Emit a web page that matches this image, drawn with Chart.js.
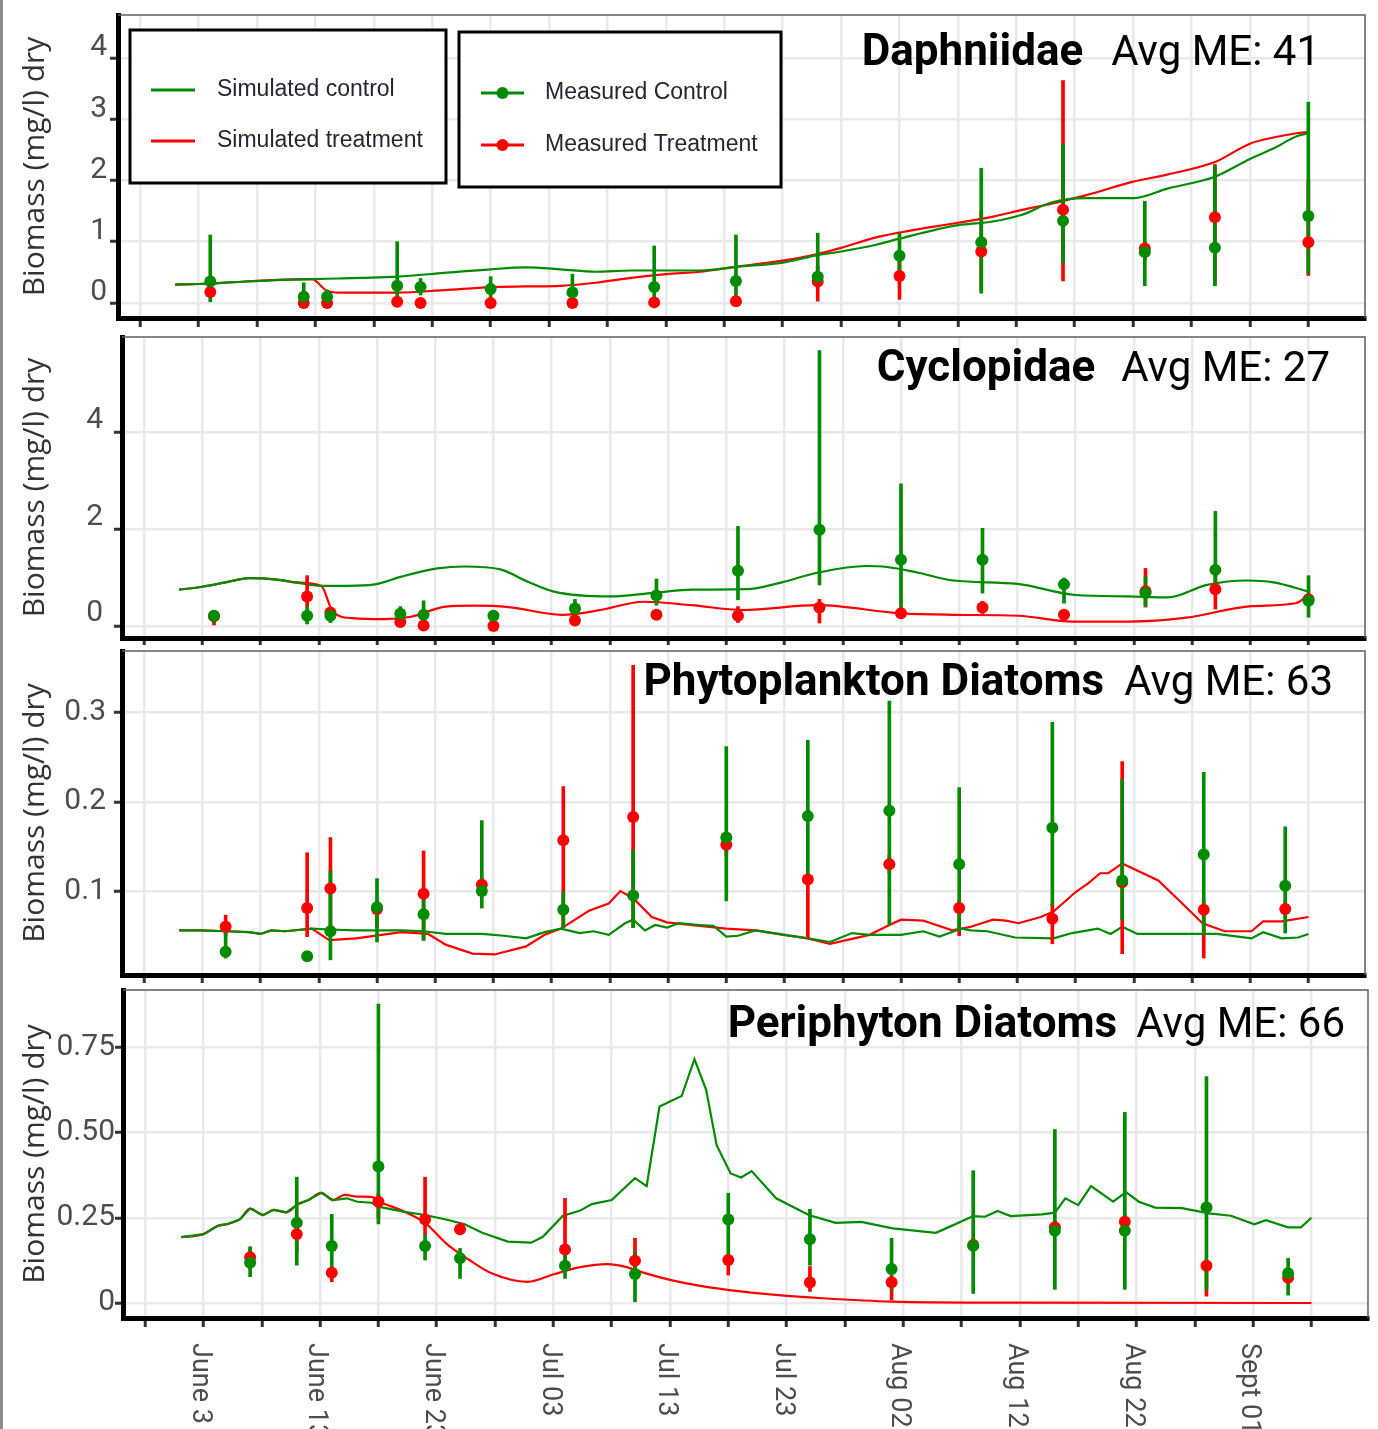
<!DOCTYPE html>
<html>
<head>
<meta charset="utf-8">
<script src="https://cdn.jsdelivr.net/npm/chart.js@4.4.1/dist/chart.umd.min.js"></script>
<style>
  html, body { margin: 0; padding: 0; background: #fff; }
  body { width: 1378px; height: 1429px; position: relative; overflow: hidden; }
  #edge { position: absolute; left: 0; top: 0; width: 3px; height: 1429px; background: #8c8c8c; }
  canvas { position: absolute; left: 0; }
</style>
</head>
<body>
<div id="edge"></div>
<canvas id="p1" width="1378" height="330" style="top:0px"></canvas>
<canvas id="p2" width="1378" height="315" style="top:330px"></canvas>
<canvas id="p3" width="1378" height="338" style="top:645px"></canvas>
<canvas id="p4" width="1378" height="446" style="top:983px"></canvas>
<script>
// x values are days since June 3
const xTickDays = [0, 10, 20, 30, 40, 50, 60, 70, 80, 90];
const xTickLabels = ['June 3', 'June 13', 'June 23', 'Jul 03', 'Jul 13', 'Jul 23', 'Aug 02', 'Aug 12', 'Aug 22', 'Sept 01'];

const seriesLabels = ['Simulated control', 'Simulated treatment', 'Measured Control', 'Measured Treatment'];
const panelNames = ['Daphniidae', 'Cyclopidae', 'Phytoplankton Diatoms', 'Periphyton Diatoms'];
const panelME = [41, 27, 63, 66];

// --- Daphniidae ---
const daphSimCtrlDays = [-2, 0, 3, 6, 9.7, 12, 14, 17, 21, 25, 28, 31, 34, 37, 40, 43, 46, 50, 53, 55, 58, 60, 65, 68, 70.5, 73, 76, 80, 83, 87, 90, 92, 94, 95];
const daphSimCtrl = [0.30, 0.31, 0.34, 0.37, 0.39, 0.40, 0.41, 0.43, 0.49, 0.55, 0.58, 0.55, 0.51, 0.53, 0.53, 0.53, 0.59, 0.66, 0.78, 0.84, 0.95, 1.05, 1.27, 1.33, 1.44, 1.64, 1.71, 1.71, 1.87, 2.06, 2.35, 2.52, 2.72, 2.77];
const daphSimTrtDays = [-2, 0, 3, 6, 9.7, 10.9, 12, 14, 17, 21, 25, 28, 31, 34, 37, 40, 43, 46, 50, 53, 55, 58, 60, 65, 68, 70.5, 73, 76, 80, 83, 87, 90, 92, 94, 95];
const daphSimTrt = [0.30, 0.31, 0.34, 0.37, 0.39, 0.21, 0.17, 0.17, 0.17, 0.21, 0.26, 0.27, 0.28, 0.33, 0.41, 0.47, 0.51, 0.59, 0.69, 0.80, 0.90, 1.07, 1.15, 1.31, 1.41, 1.52, 1.62, 1.76, 1.98, 2.10, 2.30, 2.60, 2.70, 2.77, 2.79];
const zooSampleDays = [1, 9, 11, 17, 19, 25, 32, 39, 46, 53, 60, 67, 74, 81, 87, 95];
const daphCtrlMean = [0.35, 0.10, 0.10, 0.28, 0.26, 0.23, 0.17, 0.26, 0.36, 0.43, 0.77, 0.99, 1.34, 0.83, 0.90, 1.42];
const daphCtrlLo = [0.00, 0.02, 0.02, 0.02, 0.13, 0.05, 0.05, 0.02, 0.00, 0.33, 0.45, 0.16, 0.65, 0.28, 0.28, 0.48];
const daphCtrlHi = [1.11, 0.33, 0.21, 1.00, 0.40, 0.43, 0.47, 0.93, 1.11, 1.14, 1.14, 2.20, 2.59, 1.66, 2.24, 3.28];
const daphTrtMean = [0.18, 0.00, 0.00, 0.02, 0.00, 0.00, 0.00, 0.01, 0.03, 0.35, 0.44, 0.84, 1.52, 0.89, 1.40, 0.99];
const daphTrtLo = [0.10, 0.00, 0.00, 0.00, 0.00, 0.00, 0.00, 0.00, 0.00, 0.03, 0.06, 0.20, 0.36, 0.70, 0.30, 0.45];
const daphTrtHi = [0.25, 0.02, 0.02, 0.04, 0.02, 0.02, 0.02, 0.03, 0.05, 0.60, 0.80, 1.50, 3.63, 1.00, 2.26, 2.00];

// --- Cyclopidae ---
const cyclSimCtrlDays = [-2, 0, 2, 4, 6.4, 8, 10.2, 12.5, 14.8, 17.1, 20.2, 22.5, 25.6, 27.9, 30.2, 35, 39, 42, 46.8, 49.4, 52.8, 57, 58.8, 61.5, 64.5, 70, 75, 79.6, 82.9, 86.3, 89.7, 92, 95];
const cyclSimCtrl = [0.75, 0.81, 0.90, 0.99, 0.96, 0.90, 0.83, 0.83, 0.86, 1.02, 1.19, 1.23, 1.17, 0.92, 0.71, 0.61, 0.69, 0.75, 0.76, 0.88, 1.10, 1.24, 1.22, 1.10, 0.94, 0.87, 0.64, 0.61, 0.59, 0.85, 0.94, 0.90, 0.71];
const cyclSimTrtDays = [-2, 0, 2, 4, 6.4, 8, 10.2, 11.2, 12.9, 15.6, 17.9, 20.9, 23.3, 26.3, 30.9, 34, 37.9, 42, 46.4, 52.8, 60, 64.5, 70.1, 74.7, 79.6, 84.5, 90.1, 93.9, 95];
const cyclSimTrt = [0.75, 0.81, 0.90, 0.99, 0.96, 0.90, 0.83, 0.30, 0.16, 0.14, 0.19, 0.40, 0.42, 0.39, 0.23, 0.32, 0.50, 0.43, 0.33, 0.43, 0.26, 0.23, 0.21, 0.09, 0.09, 0.17, 0.41, 0.47, 0.64];
const cyclCtrlMean = [0.21, 0.21, 0.21, 0.25, 0.23, 0.21, 0.36, 0.63, 1.14, 1.99, 1.37, 1.37, 0.86, 0.68, 1.16, 0.52];
const cyclCtrlLo = [0.06, 0.04, 0.07, 0.11, 0.05, 0.10, 0.19, 0.43, 0.54, 0.85, 0.16, 0.68, 0.47, 0.40, 0.85, 0.18];
const cyclCtrlHi = [0.30, 0.40, 0.35, 0.40, 0.52, 0.30, 0.55, 0.97, 2.06, 5.70, 2.94, 2.02, 0.99, 1.02, 2.37, 1.04];
const cyclTrtMean = [0.20, 0.61, 0.28, 0.08, 0.01, 0.00, 0.11, 0.23, 0.21, 0.38, 0.26, 0.38, 0.23, 0.72, 0.76, 0.55];
const cyclTrtLo = [0.02, 0.40, 0.18, 0.04, 0.00, 0.00, 0.06, 0.18, 0.07, 0.06, 0.16, 0.26, 0.18, 0.39, 0.35, 0.45];
const cyclTrtHi = [0.25, 1.04, 0.38, 0.12, 0.04, 0.03, 0.16, 0.28, 0.40, 0.55, 0.36, 0.51, 0.28, 1.19, 1.20, 0.65];

// --- Phytoplankton Diatoms ---
const phytoSimCtrlDays = [-2, -0.2, 2.1, 4, 5, 5.9, 7.1, 9.4, 10.9, 13.2, 17.1, 19, 20.9, 24, 25.9, 27.8, 29.4, 30.8, 32.4, 33.6, 34.9, 36.3, 37, 38, 38.9, 39.9, 40.9, 42.7, 43.9, 45, 46, 47.5, 49.9, 52, 53.9, 55.8, 57.3, 60, 61.9, 63.3, 65.2, 66, 67.4, 69.8, 73.1, 74.7, 76.9, 78, 79, 80.3, 83.3, 87.1, 90.1, 91.1, 92.7, 94.1, 95];
const phytoSimCtrl = [0.056, 0.056, 0.055, 0.054, 0.052, 0.056, 0.055, 0.058, 0.057, 0.056, 0.056, 0.055, 0.052, 0.052, 0.050, 0.047, 0.054, 0.058, 0.053, 0.055, 0.051, 0.064, 0.068, 0.056, 0.062, 0.059, 0.064, 0.062, 0.061, 0.049, 0.050, 0.056, 0.051, 0.047, 0.043, 0.053, 0.051, 0.051, 0.055, 0.049, 0.058, 0.056, 0.055, 0.048, 0.047, 0.053, 0.058, 0.052, 0.060, 0.052, 0.052, 0.052, 0.047, 0.054, 0.047, 0.048, 0.052];
const phytoSimTrtDays = [-2, -0.2, 2.1, 4, 5, 5.9, 7.1, 9.4, 10.9, 13.2, 17.1, 19.4, 20.9, 23.2, 25.1, 27.8, 29.4, 30.8, 33.2, 34.9, 35.9, 37, 38.6, 39.9, 42.7, 45, 47.5, 52, 53.9, 57.3, 59, 60, 61.9, 64.4, 66, 67.9, 69, 70.1, 72, 73.1, 75, 76.1, 77.1, 77.8, 79, 82.1, 84, 85.9, 87.8, 90.1, 91.1, 92.7, 95];
const phytoSimTrt = [0.056, 0.056, 0.055, 0.054, 0.052, 0.056, 0.055, 0.058, 0.045, 0.047, 0.054, 0.052, 0.040, 0.030, 0.029, 0.038, 0.051, 0.058, 0.078, 0.086, 0.100, 0.092, 0.071, 0.065, 0.061, 0.058, 0.056, 0.047, 0.041, 0.051, 0.062, 0.068, 0.067, 0.056, 0.060, 0.068, 0.067, 0.064, 0.071, 0.077, 0.099, 0.109, 0.120, 0.120, 0.131, 0.112, 0.088, 0.064, 0.055, 0.055, 0.066, 0.066, 0.071];
const phytoSampleDays = [2, 9, 11, 15, 19, 24, 31, 37, 45, 52, 59, 65, 73, 79, 86, 93];
const phytoCtrlMean = [0.032, 0.027, 0.055, 0.082, 0.074, 0.100, 0.079, 0.095, 0.160, 0.184, 0.190, 0.130, 0.171, 0.112, 0.141, 0.106];
const phytoCtrlLo = [0.025, 0.025, 0.023, 0.043, 0.045, 0.081, 0.059, 0.059, 0.089, 0.115, 0.062, 0.056, 0.084, 0.068, 0.051, 0.053];
const phytoCtrlHi = [0.056, 0.030, 0.122, 0.114, 0.092, 0.179, 0.099, 0.146, 0.262, 0.269, 0.313, 0.216, 0.289, 0.225, 0.233, 0.172];
const phytoTrtMean = [0.060, 0.081, 0.103, 0.080, 0.097, 0.107, 0.157, 0.183, 0.152, 0.113, 0.130, 0.081, 0.069, 0.110, 0.079, 0.080];
const phytoTrtLo = [0.050, 0.049, 0.060, 0.060, 0.045, 0.095, 0.059, 0.059, 0.140, 0.047, 0.120, 0.050, 0.041, 0.030, 0.025, 0.070];
const phytoTrtHi = [0.073, 0.143, 0.160, 0.090, 0.145, 0.115, 0.217, 0.353, 0.165, 0.120, 0.140, 0.090, 0.086, 0.245, 0.090, 0.090];

// --- Periphyton Diatoms ---
const periSimCtrlDays = [-1.9, 0, 1.2, 2.1, 3.1, 4, 5.1, 6, 7.1, 8.1, 9, 10.1, 11.1, 12.3, 13.2, 14.4, 15.1, 17.1, 19, 20.8, 22.4, 23.9, 26.1, 28.1, 29.1, 30.8, 32.3, 33.3, 35, 37, 38, 39.1, 41, 42.1, 43.1, 44, 45.2, 46.1, 47, 49.1, 51.9, 54.2, 56.4, 59.1, 62.8, 64, 66, 67, 68.1, 69.2, 71.9, 73, 73.9, 75, 76.1, 78, 79.1, 80.2, 81.6, 83.9, 86.2, 88.1, 90.1, 91.1, 93, 94.1, 95];
const periSimCtrl = [0.193, 0.202, 0.226, 0.232, 0.245, 0.277, 0.258, 0.273, 0.266, 0.290, 0.302, 0.323, 0.302, 0.307, 0.297, 0.294, 0.282, 0.268, 0.258, 0.245, 0.231, 0.206, 0.180, 0.177, 0.194, 0.255, 0.271, 0.290, 0.302, 0.366, 0.343, 0.576, 0.607, 0.715, 0.625, 0.463, 0.380, 0.368, 0.387, 0.307, 0.258, 0.235, 0.238, 0.219, 0.206, 0.224, 0.255, 0.253, 0.270, 0.255, 0.260, 0.265, 0.307, 0.287, 0.343, 0.297, 0.325, 0.297, 0.280, 0.278, 0.263, 0.256, 0.231, 0.243, 0.222, 0.222, 0.250];
const periSimTrtDays = [-1.9, 0, 1.2, 2.1, 3.1, 4, 5.1, 6, 7.1, 8.1, 9, 10.1, 11.1, 12.1, 13.2, 14.4, 15.1, 17.1, 19, 20.8, 22.8, 24.7, 27.8, 30.1, 32.3, 34.6, 36.2, 37.7, 40.1, 42.6, 45.1, 49.3, 53.1, 59.1, 68.1, 95];
const periSimTrt = [0.193, 0.202, 0.226, 0.232, 0.245, 0.277, 0.258, 0.273, 0.266, 0.290, 0.302, 0.323, 0.302, 0.317, 0.312, 0.311, 0.297, 0.270, 0.235, 0.175, 0.126, 0.087, 0.062, 0.085, 0.105, 0.114, 0.106, 0.089, 0.067, 0.050, 0.038, 0.023, 0.014, 0.004, 0.001, 0.000];
const periSampleDays = [4, 8, 11, 15, 19, 22, 31, 37, 45, 52, 59, 66, 73, 79, 86, 93];
const periCtrlMean = [0.118, 0.235, 0.167, 0.400, 0.167, 0.131, 0.109, 0.085, 0.245, 0.187, 0.100, 0.168, 0.212, 0.212, 0.280, 0.087];
const periCtrlLo = [0.077, 0.111, 0.087, 0.232, 0.126, 0.072, 0.072, 0.000, 0.126, 0.111, 0.040, 0.028, 0.040, 0.040, 0.040, 0.023];
const periCtrlHi = [0.165, 0.369, 0.260, 0.877, 0.199, 0.160, 0.146, 0.150, 0.322, 0.275, 0.190, 0.388, 0.509, 0.559, 0.664, 0.131];
const periTrtMean = [0.134, 0.202, 0.089, 0.297, 0.245, 0.216, 0.157, 0.124, 0.126, 0.060, 0.061, 0.170, 0.222, 0.238, 0.109, 0.074];
const periTrtLo = [0.100, 0.150, 0.062, 0.250, 0.199, 0.200, 0.100, 0.100, 0.082, 0.034, 0.009, 0.150, 0.200, 0.220, 0.020, 0.060];
const periTrtHi = [0.160, 0.250, 0.100, 0.320, 0.369, 0.235, 0.307, 0.190, 0.140, 0.107, 0.070, 0.190, 0.240, 0.260, 0.120, 0.090];

const GREEN = '#008b00';
const RED = '#ff0000';
const X_MIN = -6.9, X_MAX = 99.85;

function toXY(xs, ys) {
  return xs.map((x, i) => ({ x: x, y: ys[i] }));
}
function toBars(xs, lo, hi) {
  return xs.map((x, i) => ({ x: x, y: [lo[i], hi[i]] }));
}

// top + right panel border
const ggFrame = {
  id: 'ggFrame',
  afterDatasetsDraw(chart) {
    const { ctx, chartArea: a } = chart;
    ctx.save();
    ctx.strokeStyle = '#5e5e5e';
    ctx.lineWidth = 1.5;
    ctx.beginPath();
    ctx.moveTo(a.left, a.top);
    ctx.lineTo(a.right, a.top);
    ctx.lineTo(a.right, a.bottom);
    ctx.stroke();
    ctx.restore();
  }
};

// "Name  Avg ME: nn" in the top right corner
const ggTitle = {
  id: 'ggTitle',
  afterDraw(chart, args, opts) {
    if (!opts || opts.name === undefined) return;
    const { ctx, chartArea: a } = chart;
    ctx.save();
    ctx.fillStyle = '#000';
    ctx.textAlign = 'right';
    ctx.textBaseline = 'alphabetic';
    const x = a.right - opts.inset;
    const y = a.top + opts.baseline;
    const me = 'Avg ME: ' + opts.me;
    ctx.font = '42px Roboto';
    ctx.fillText(me, x, y);
    const w = ctx.measureText(me).width;
    ctx.font = 'bold 44px Roboto';
    ctx.fillText(opts.name, x - w - opts.gap, y);
    ctx.restore();
  }
};

// boxed legends like the ggplot ones
const ggLegend = {
  id: 'ggLegend',
  afterDraw(chart, args, opts) {
    if (!opts || !opts.boxes) return;
    const { ctx, chartArea: a } = chart;
    const ds = chart.data.datasets;
    ctx.save();
    for (const b of opts.boxes) {
      ctx.fillStyle = '#fff';
      ctx.fillRect(a.left + b.x, a.top + b.y, b.w, b.h);
      ctx.strokeStyle = '#000';
      ctx.lineWidth = 3;
      ctx.strokeRect(a.left + b.x, a.top + b.y, b.w, b.h);
      for (const r of b.rows) {
        const d = ds[r.ds];
        const col = d.borderColor || d.pointBackgroundColor;
        const yy = a.top + r.dy;
        ctx.strokeStyle = col;
        ctx.lineWidth = 3;
        ctx.beginPath();
        ctx.moveTo(a.left + b.lineX[0], yy);
        ctx.lineTo(a.left + b.lineX[1], yy);
        ctx.stroke();
        if (b.dot) {
          ctx.fillStyle = col;
          ctx.beginPath();
          ctx.arc(a.left + (b.lineX[0] + b.lineX[1]) / 2, yy, 6, 0, Math.PI * 2);
          ctx.fill();
        }
        ctx.fillStyle = '#262633';
        ctx.font = '23px "Liberation Sans", Arial, sans-serif';
        ctx.textAlign = 'left';
        ctx.textBaseline = 'middle';
        ctx.fillText(d.label, a.left + b.textX, yy);
      }
    }
    ctx.restore();
  }
};

// date labels, turned a quarter clockwise
const ggDates = {
  id: 'ggDates',
  afterDraw(chart, args, opts) {
    if (!opts || !opts.show) return;
    const xs = chart.scales.x;
    const ctx = chart.ctx;
    ctx.save();
    ctx.font = '27px Roboto';
    ctx.fillStyle = '#4d4d4d';
    ctx.textAlign = 'left';
    ctx.textBaseline = 'middle';
    xs.ticks.forEach(t => {
      const i = xTickDays.indexOf(t.value);
      if (i < 0) return;
      const px = xs.getPixelForValue(t.value);
      ctx.save();
      ctx.translate(px - 4, chart.chartArea.bottom + opts.gap);
      ctx.rotate(Math.PI / 2);
      ctx.fillText(xTickLabels[i], 0, 0);
      ctx.restore();
    });
    ctx.restore();
  }
};

function makePanel(id, g, ys, s, extra) {
  const datasets = [
    { type: 'line', label: seriesLabels[0], data: toXY(s.ctrlDays, s.ctrlSim), borderColor: GREEN, borderWidth: 2.2,
      pointRadius: 0, cubicInterpolationMode: s.smoothCtrl ? 'monotone' : 'default', tension: 0, order: 5 },
    { type: 'line', label: seriesLabels[1], data: toXY(s.trtDays, s.trtSim), borderColor: RED, borderWidth: 2.2,
      pointRadius: 0, cubicInterpolationMode: s.smoothTrt ? 'monotone' : 'default', tension: 0, order: 6 },
    { type: 'bar', label: 'treatment range', data: toBars(s.obsDays, s.trtLo, s.trtHi), backgroundColor: RED,
      barThickness: 3, grouped: false, order: 4 },
    { type: 'bar', label: 'control range', data: toBars(s.obsDays, s.ctrlLo, s.ctrlHi), backgroundColor: GREEN,
      barThickness: 3, grouped: false, order: 3 },
    { type: 'line', label: seriesLabels[3], data: toXY(s.obsDays, s.trtMean), showLine: false, pointRadius: 6,
      pointBackgroundColor: RED, pointBorderWidth: 0, borderColor: RED, backgroundColor: RED, order: 2 },
    { type: 'line', label: seriesLabels[2], data: toXY(s.obsDays, s.ctrlMean), showLine: false, pointRadius: 6,
      pointBackgroundColor: GREEN, pointBorderWidth: 0, borderColor: GREEN, backgroundColor: GREEN, order: 1 }
  ];

  const canvas = document.getElementById(id);
  return new Chart(canvas, {
    type: 'line',
    data: { datasets: datasets },
    plugins: [ggFrame, ggTitle, ggLegend, ggDates],
    options: {
      responsive: false,
      animation: false,
      events: [],
      layout: { padding: { top: g.top, right: g.right, left: 0, bottom: 0 } },
      scales: {
        x: {
          type: 'linear', min: X_MIN, max: X_MAX, offset: false,
          afterFit(sc) { sc.height = g.xh; sc.paddingLeft = 0; sc.paddingRight = 0; },
          border: { display: true, color: '#000', width: 5 },
          grid: { color: '#e9e9e9', lineWidth: 2.5, tickColor: '#333', tickLength: 9, tickWidth: 3, offset: false },
          ticks: { display: false, stepSize: 5, includeBounds: false, autoSkip: false }
        },
        y: {
          type: 'linear', min: ys.min, max: ys.max, beginAtZero: false,
          afterFit(sc) { sc.width = g.left; sc.paddingTop = 0; sc.paddingBottom = 0; },
          border: { display: true, color: '#000', width: 5 },
          grid: { color: '#e9e9e9', lineWidth: 2.5, tickColor: '#333', tickLength: 8, tickWidth: 3 },
          ticks: {
            stepSize: ys.step, includeBounds: false, color: '#4d4d4d', padding: ys.pad, labelOffset: ys.labelOffset,
            font: { family: 'Roboto', size: 30 },
            callback: ys.fmt
          },
          title: {
            display: true, text: 'Biomass (mg/l) dry', color: '#333',
            font: { family: '"Open Sans"', size: 30 }, padding: { top: 17, bottom: 0 }
          }
        }
      },
      plugins: {
        legend: { display: false },
        tooltip: { enabled: false },
        ggTitle: extra.title,
        ggLegend: extra.legend || {},
        ggDates: extra.dates || {}
      }
    }
  });
}

const intFmt = v => String(Math.round(v));

makePanel('p1', { top: 15, right: 13, left: 118, xh: 12 },
  { min: -0.245, max: 4.70, step: 1, pad: 3, labelOffset: -10, fmt: intFmt },
  { ctrlDays: daphSimCtrlDays, ctrlSim: daphSimCtrl, trtDays: daphSimTrtDays, trtSim: daphSimTrt,
    smoothCtrl: true, smoothTrt: true, obsDays: zooSampleDays,
    ctrlMean: daphCtrlMean, ctrlLo: daphCtrlLo, ctrlHi: daphCtrlHi,
    trtMean: daphTrtMean, trtLo: daphTrtLo, trtHi: daphTrtHi },
  {
    title: { name: panelNames[0], me: panelME[0], inset: 45, baseline: 50, gap: 28 },
    legend: { boxes: [
      { x: 12, y: 15, w: 316, h: 153, lineX: [33, 77], textX: 99, dot: false, rows: [{ ds: 0, dy: 75 }, { ds: 1, dy: 126 }] },
      { x: 341, y: 17, w: 322, h: 155, lineX: [363, 406], textX: 427, dot: true, rows: [{ ds: 5, dy: 78 }, { ds: 4, dy: 130 }] }
    ] }
  });

makePanel('p2', { top: 7, right: 13, left: 122, xh: 7 },
  { min: -0.25, max: 5.98, step: 2, pad: 11, labelOffset: -12, fmt: intFmt },
  { ctrlDays: cyclSimCtrlDays, ctrlSim: cyclSimCtrl, trtDays: cyclSimTrtDays, trtSim: cyclSimTrt,
    smoothCtrl: true, smoothTrt: true, obsDays: zooSampleDays,
    ctrlMean: cyclCtrlMean, ctrlLo: cyclCtrlLo, ctrlHi: cyclCtrlHi,
    trtMean: cyclTrtMean, trtLo: cyclTrtLo, trtHi: cyclTrtHi },
  { title: { name: panelNames[1], me: panelME[1], inset: 35, baseline: 44, gap: 26 } });

makePanel('p3', { top: 5, right: 13, left: 122, xh: 8 },
  { min: 0.006, max: 0.369, step: 0.1, pad: 8, labelOffset: 0, fmt: v => v.toFixed(1) },
  { ctrlDays: phytoSimCtrlDays, ctrlSim: phytoSimCtrl, trtDays: phytoSimTrtDays, trtSim: phytoSimTrt,
    smoothCtrl: false, smoothTrt: false, obsDays: phytoSampleDays,
    ctrlMean: phytoCtrlMean, ctrlLo: phytoCtrlLo, ctrlHi: phytoCtrlHi,
    trtMean: phytoTrtMean, trtLo: phytoTrtLo, trtHi: phytoTrtHi },
  { title: { name: panelNames[2], me: panelME[2], inset: 32, baseline: 44, gap: 20 } });

makePanel('p4', { top: 7, right: 10, left: 123, xh: 111 },
  { min: -0.044, max: 0.918, step: 0.25, pad: 0, labelOffset: 0, fmt: v => (Math.abs(v) < 1e-9 ? '0' : v.toFixed(2)) },
  { ctrlDays: periSimCtrlDays, ctrlSim: periSimCtrl, trtDays: periSimTrtDays, trtSim: periSimTrt,
    smoothCtrl: false, smoothTrt: true, obsDays: periSampleDays,
    ctrlMean: periCtrlMean, ctrlLo: periCtrlLo, ctrlHi: periCtrlHi,
    trtMean: periTrtMean, trtLo: periTrtLo, trtHi: periTrtHi },
  {
    title: { name: panelNames[3], me: panelME[3], inset: 23, baseline: 47, gap: 19 },
    dates: { show: true, gap: 25 }
  });
</script>
</body>
</html>
